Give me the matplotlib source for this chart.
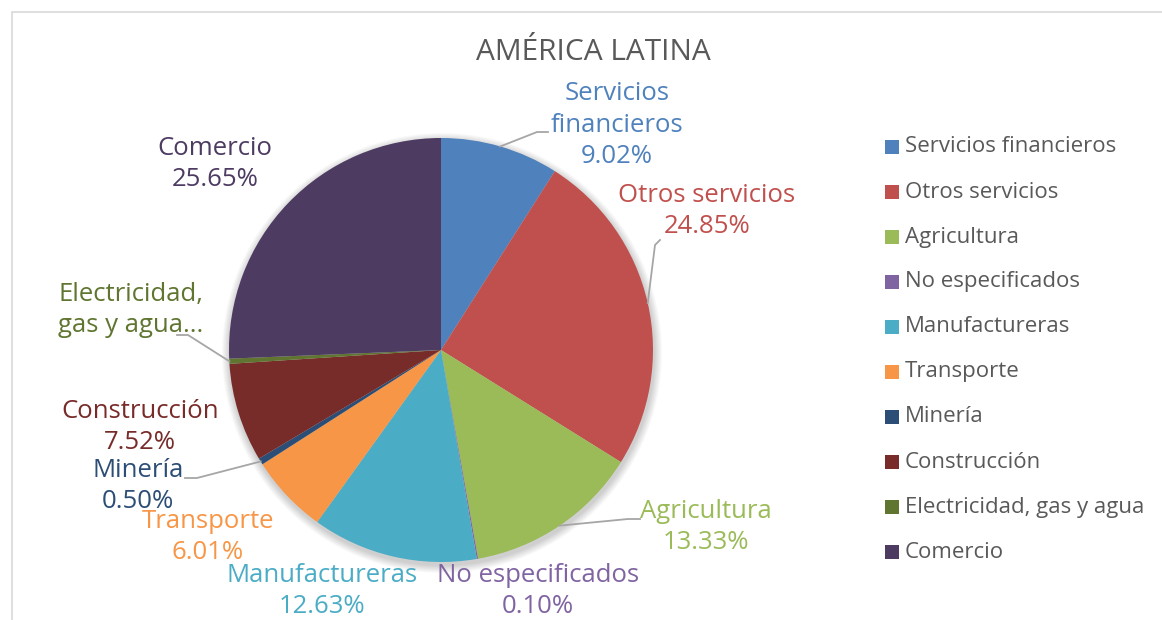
import matplotlib.pyplot as plt
import numpy as np
from matplotlib.patches import Rectangle, Circle

# sector shares, America Latina
categories = ['Servicios financieros', 'Otros servicios', 'Agricultura', 'No especificados',
              'Manufactureras', 'Transporte', 'Minería', 'Construcción',
              'Electricidad, gas y agua', 'Comercio']
shares = [9.02, 24.85, 13.33, 0.10, 12.63, 6.01, 0.50, 7.52, 0.39, 25.65]
label_names = ['Servicios\nfinancieros', 'Otros servicios', 'Agricultura', 'No especificados',
               'Manufactureras', 'Transporte', 'Minería', 'Construcción',
               'Electricidad,\ngas y agua...', 'Comercio']
colors = ['#4F81BD', '#C0504D', '#9BBB59', '#8064A2', '#4BACC6',
          '#F79646', '#2C4D75', '#772C2A', '#5F7530', '#4D3B62']

# label layout in pixel space (x, y from top)
label_pos = [(617, 125), (707, 211), (706, 527), (538, 591), (322, 591),
             (208, 537), (138, 486), (140, 427), (131, 310), (215, 164)]
# leader line elbow and end, None = no leader
leader_end = [((537, 132), (548, 132)), ((655, 245), (660, 240)), ((628, 519), (640, 519)), None, None,
              None, ((197, 478), (185, 478)), None, ((188, 335), (177, 335)), None]

W, H = 1162, 620
plt.rcParams['font.family'] = ['Open Sans', 'DejaVu Sans']

fig = plt.figure(figsize=(W / 100, H / 100), dpi=100)
ax = fig.add_axes([0, 0, 1, 1])

# chart frame
ax.add_patch(Rectangle((12, -20), W, H - 12 + 20, fill=False, edgecolor='#D9D9D9', linewidth=1.2))

cx, cy, r = 441, H - 350, 212

# soft shadow behind the pie
for k in range(8):
    ax.add_patch(Circle((cx + 1, cy - 3), r + 1 + k, facecolor='black', alpha=0.025, edgecolor='none', zorder=0))

wedges, _ = ax.pie(shares, colors=colors, startangle=90, counterclock=False,
                   center=(cx, cy), radius=r, frame=True,
                   wedgeprops=dict(linewidth=0, zorder=1))
ax.set_xlim(0, W)
ax.set_ylim(0, H)
ax.set_aspect('equal')
ax.axis('off')

for i, w in enumerate(wedges):
    mid = np.deg2rad((w.theta1 + w.theta2) / 2)
    lx, ly = label_pos[i]
    txt = label_names[i] if i == 8 else '{}\n{:.2f}%'.format(label_names[i], shares[i])
    ax.text(lx, H - ly, txt, color=colors[i], fontsize=18.5, ha='center', va='center', linespacing=1.35)
    if leader_end[i] is not None:
        sx, sy = cx + r * np.cos(mid), cy + r * np.sin(mid)
        (bx, by), (ex, ey) = leader_end[i]
        ax.plot([sx, bx, ex], [sy, H - by, H - ey], color='#A6A6A6', linewidth=1.3, zorder=2)

ax.text(593, H - 52, 'AMÉRICA LATINA', color='#595959', fontsize=21.5, ha='center', va='center')

# legend
for i, name in enumerate(categories):
    y = H - (147 + 45 * i)
    ax.add_patch(Rectangle((885, y - 7), 14, 14, facecolor=colors[i], edgecolor='none'))
    ax.text(905, y, name, color='#595959', fontsize=16, ha='left', va='center')

fig.savefig('out.png', dpi=100)
